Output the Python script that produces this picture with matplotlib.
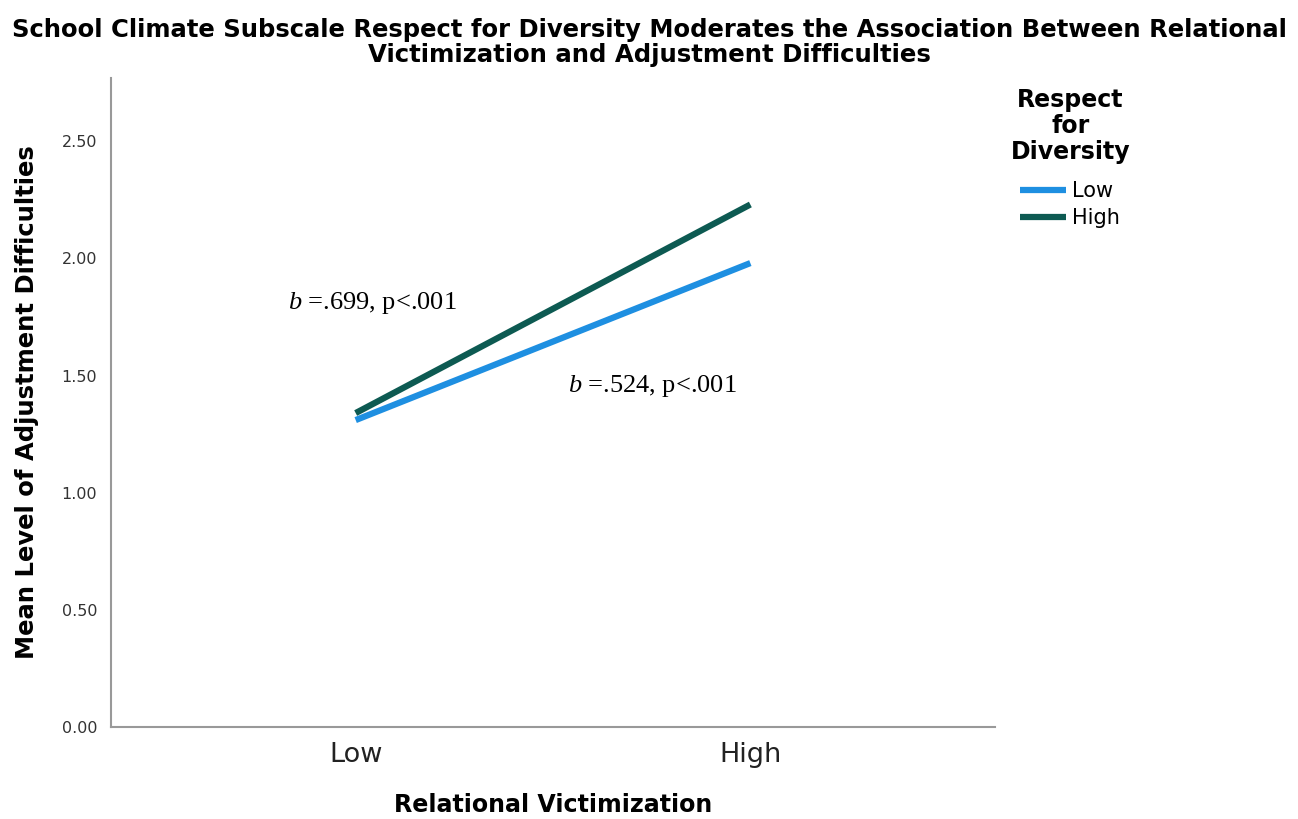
import numpy as np
import matplotlib.pyplot as plt

plt.rcParams["mathtext.fontset"] = "custom"
plt.rcParams["mathtext.it"] = "Liberation Serif:italic"
plt.rcParams["mathtext.rm"] = "Liberation Serif"

# data
categories = ["Low", "High"]
low_diversity = [1.31, 1.98]
high_diversity = [1.34, 2.23]
series_names = ["Low", "High"]
colors = ["#1e8fe1", "#0d5a52"]
yticks = [0.0, 0.5, 1.0, 1.5, 2.0, 2.5]

label_font = "DejaVu Sans"

fig = plt.figure(figsize=(12.98, 8.19), dpi=100)
ax = fig.add_axes([0.0855, 0.1123, 0.6811, 0.7925])

x = np.arange(len(categories))
for vals, name, c in zip([low_diversity, high_diversity], series_names, colors):
    ax.plot(x, vals, color=c, lw=4.5, label=name, solid_capstyle="butt")

ax.set_xlim(-0.62, 1.62)
ax.set_ylim(0, 2.77)
ax.set_xticks(x)
ax.set_xticklabels(categories, family=label_font, fontsize=19.5, color="#222222")
ax.set_yticks(yticks)
ax.set_yticklabels([f"{v:.2f}" for v in yticks], fontsize=11.5, color="#333333")
ax.tick_params(length=0, pad=10)
ax.tick_params(axis="x", pad=11)

for s in ["top", "right"]:
    ax.spines[s].set_visible(False)
for s in ["left", "bottom"]:
    ax.spines[s].set_color("#999999")
    ax.spines[s].set_linewidth(1.5)

xl = ax.set_xlabel("Relational Victimization", family=label_font, fontsize=18,
                   fontweight="bold", va="center")
yl = ax.set_ylabel("Mean Level of Adjustment Difficulties", family=label_font, fontsize=18,
                   fontweight="bold", va="center")
ax.xaxis.set_label_coords(0.5, -0.12)
ax.yaxis.set_label_coords(-0.095, 0.5)

t1 = fig.text(0.5, 0.963, "School Climate Subscale Respect for Diversity Moderates the Association Between Relational",
              family=label_font, fontsize=16, fontweight="bold", ha="center", va="center")
t2 = fig.text(0.5, 0.933, "Victimization and Adjustment Difficulties",
              family=label_font, fontsize=16, fontweight="bold", ha="center", va="center")

# simple slope annotations
ax.text(-0.172, 1.81, r"$b$ =.699, p<.001", family="Liberation Serif",
        fontsize=19, va="center", ha="left")
ax.text(0.537, 1.457, r"$b$ =.524, p<.001", family="Liberation Serif",
        fontsize=19, va="center", ha="left")

leg = ax.legend(title="Respect\nfor\nDiversity", loc="upper left",
                bbox_to_anchor=(0.764, 0.915), bbox_transform=fig.transFigure,
                frameon=False, fontsize=15, handlelength=2.2, handletextpad=0.3,
                labelspacing=0.35)
leg.get_title().set_fontweight("bold")
leg.get_title().set_fontsize(17)
leg.get_title().set_multialignment("center")
leg.get_title().set_linespacing(1.1)
leg._legend_box.sep = 12

# size the label texts to the widths they take in the reference
fig.canvas.draw()
r = fig.canvas.get_renderer()
for txt, target, vertical in [(t1, 1278, False), (t2, 565, False),
                              (xl, 321, False), (yl, 515, True)]:
    bb = txt.get_window_extent(r)
    size = bb.height if vertical else bb.width
    txt.set_fontsize(txt.get_fontsize() * target / size)

fig.savefig("out.png", dpi=100)
